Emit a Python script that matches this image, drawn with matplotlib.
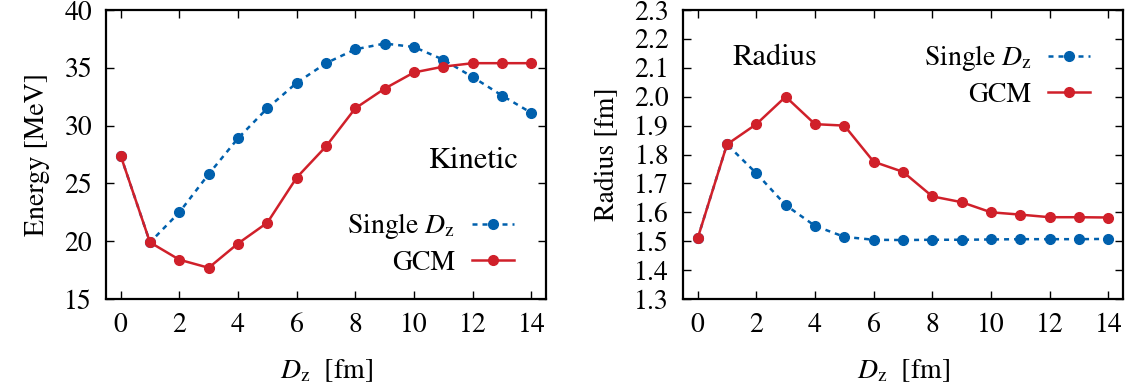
import matplotlib
matplotlib.use("Agg")
import matplotlib.pyplot as plt
import numpy as np

plt.rcParams['font.family'] = ['STIXGeneral', 'Liberation Serif', 'DejaVu Serif']
plt.rcParams['mathtext.fontset'] = 'stix'
plt.rcParams['font.size'] = 20

dz = np.arange(15)

# kinetic energy [MeV]
kin_single = [27.4, 19.9, 22.5, 25.8, 28.9, 31.5, 33.7, 35.4, 36.6, 37.1, 36.8, 35.7, 34.2, 32.6, 31.1]
kin_gcm = [27.4, 19.9, 18.4, 17.7, 19.8, 21.6, 25.5, 28.2, 31.5, 33.2, 34.6, 35.1, 35.4, 35.4, 35.4]

# radius [fm]
rad_single = [1.51, 1.835, 1.735, 1.625, 1.553, 1.515, 1.505, 1.504, 1.505, 1.505, 1.506, 1.507, 1.507, 1.507, 1.508]
rad_gcm = [1.51, 1.835, 1.905, 2.0, 1.905, 1.90, 1.775, 1.74, 1.655, 1.635, 1.60, 1.592, 1.583, 1.583, 1.582]

blue = '#0060ad'
red = '#d0202a'

fig = plt.figure(figsize=(11.34, 3.89), dpi=100)
ax1 = fig.add_axes([106/1134, 1 - 299/389, 440/1134, 289/389])
ax2 = fig.add_axes([683/1134, 1 - 299/389, 440/1134, 289/389])


def style(ax):
    ax.set_xlim(-0.5, 14.5)
    ax.set_xticks(range(0, 15, 2))
    ax.tick_params(direction='in', top=True, right=True, length=6, width=1, pad=10)
    for s in ax.spines.values():
        s.set_linewidth(1.6)
    ax.set_xlabel(r'$D_\mathrm{z}$  [fm]', labelpad=14)


for ax, single, gcm in [(ax1, kin_single, kin_gcm), (ax2, rad_single, rad_gcm)]:
    ax.plot(dz, single, color=blue, ls=(0, (2, 2)), lw=1.8, marker='o', ms=7, label=r'Single $D_\mathrm{z}$')
    ax.plot(dz, gcm, color=red, lw=1.8, marker='o', ms=7, label='GCM')
    style(ax)

leg_kw = dict(frameon=False, markerfirst=False, handlelength=1.5, handletextpad=0.6,
              labelspacing=0.33, borderaxespad=0, borderpad=0)

ax1.set_ylim(15, 40)
ax1.set_yticks(range(15, 41, 5))
ax1.set_ylabel('Energy [MeV]', labelpad=10)
ax1.text(13.55, 26.9, 'Kinetic', ha='right', va='center', fontsize=22)
ax1.legend(loc='lower right', bbox_to_anchor=(0.927, 0.08), **leg_kw)

ax2.set_ylim(1.3, 2.3)
ax2.set_yticks(np.arange(1.3, 2.31, 0.1))
ax2.set_yticklabels(['%.1f' % v for v in np.arange(1.3, 2.31, 0.1)])
ax2.set_ylabel('Radius [fm]', labelpad=10)
ax2.text(1.2, 2.135, 'Radius', ha='left', va='center', fontsize=22)
ax2.legend(loc='upper right', bbox_to_anchor=(0.925, 0.885), **leg_kw)

fig.savefig('out.png', dpi=100)
